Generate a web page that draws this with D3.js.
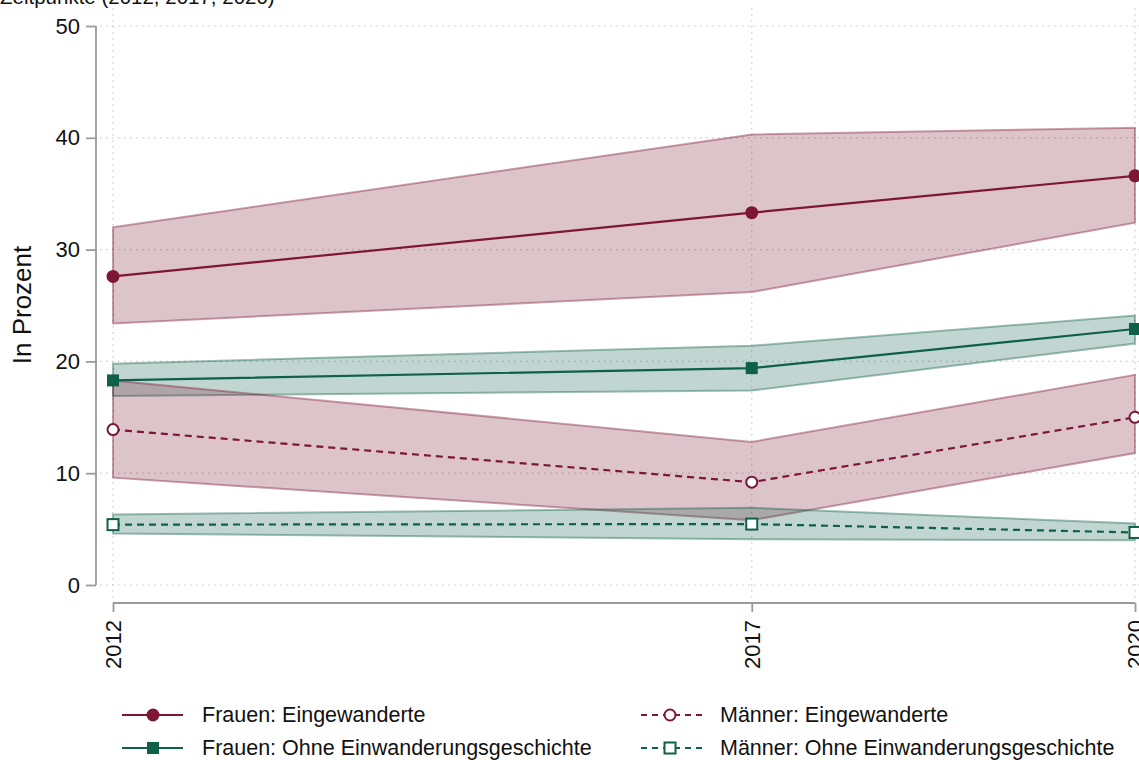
<!DOCTYPE html>
<html><head><meta charset="utf-8">
<script src="https://cdn.jsdelivr.net/npm/d3@7"></script>
<style>
html,body{margin:0;padding:0;background:#fff;}
svg{display:block;font-family:"Liberation Sans",Arial,sans-serif;}
</style></head>
<body><svg id="c" width="1139" height="760"></svg>
<script>
const years = [2012, 2017, 2020];
const yTicks = [0, 10, 20, 30, 40, 50];
const seriesNames = ["Frauen: Eingewanderte", "Frauen: Ohne Einwanderungsgeschichte", "Männer: Eingewanderte", "Männer: Ohne Einwanderungsgeschichte"];
const fEinValues = [27.6, 33.3, 36.6];
const fEinLower = [23.4, 26.2, 32.4];
const fEinUpper = [32.0, 40.3, 40.9];
const fOhneValues = [18.3, 19.4, 22.9];
const fOhneLower = [16.9, 17.4, 21.6];
const fOhneUpper = [19.8, 21.4, 24.1];
const mEinValues = [13.9, 9.2, 15.0];
const mEinLower = [9.6, 5.8, 11.8];
const mEinUpper = [18.3, 12.8, 18.8];
const mOhneValues = [5.4, 5.45, 4.7];
const mOhneLower = [4.6, 4.1, 4.0];
const mOhneUpper = [6.3, 6.9, 5.5];
const titleText = "Zeitpunkte (2012, 2017, 2020)";
const yLabel = "In Prozent";

const RED = "#7d1734", GREEN = "#0e6048";
const series = [
  {name: seriesNames[0], v: fEinValues, lo: fEinLower, hi: fEinUpper, color: RED, dashed: false, shape: "circle", filled: true},
  {name: seriesNames[1], v: fOhneValues, lo: fOhneLower, hi: fOhneUpper, color: GREEN, dashed: false, shape: "square", filled: true},
  {name: seriesNames[2], v: mEinValues, lo: mEinLower, hi: mEinUpper, color: RED, dashed: true, shape: "circle", filled: false},
  {name: seriesNames[3], v: mOhneValues, lo: mOhneLower, hi: mOhneUpper, color: GREEN, dashed: true, shape: "square", filled: false}
];

const svg = d3.select("#c");
const x = d3.scaleLinear().domain([2012, 2020]).range([113, 1135]);
const y = d3.scaleLinear().domain([0, 50]).range([585, 26]);

// clipped title (cut off at the top edge, as in the reference)
svg.append("text").attr("x", 0).attr("y", 4).attr("font-size", 20.5).attr("fill", "#111").text(titleText);

// gridlines
const grid = svg.append("g").attr("stroke", "#c8c8c8").attr("stroke-width", 1.2).attr("stroke-dasharray", "1.5,4.5");
grid.selectAll(".h").data(yTicks).join("line")
  .attr("x1", 100).attr("x2", 1139).attr("y1", d => y(d)).attr("y2", d => y(d));
grid.selectAll(".v").data(years).join("line")
  .attr("x1", d => x(d)).attr("x2", d => x(d)).attr("y1", 8).attr("y2", 600);

// y axis
const yAxis = svg.append("g").attr("transform", "translate(96,0)")
  .call(d3.axisLeft(y).tickValues(yTicks).tickSize(10).tickPadding(6));
yAxis.select(".domain").attr("stroke", "#9a9a9a").attr("stroke-width", 1.8).attr("d", `M0,${y(50)}V${y(0)}`);
yAxis.selectAll(".tick line").attr("stroke", "#9a9a9a").attr("stroke-width", 1.8);
yAxis.selectAll(".tick text").attr("font-size", 22).attr("fill", "#111").attr("font-family", "Liberation Sans, Arial, sans-serif");

// x axis
const xAxis = svg.append("g").attr("transform", "translate(0,603)")
  .call(d3.axisBottom(x).tickValues(years).tickFormat(d3.format("d")).tickSize(9));
xAxis.select(".domain").attr("stroke", "#9a9a9a").attr("stroke-width", 1.8).attr("d", `M${x(2012)},0H${x(2020)}`);
xAxis.selectAll(".tick line").attr("stroke", "#9a9a9a").attr("stroke-width", 1.8);
xAxis.selectAll(".tick text").attr("font-size", 22).attr("fill", "#111")
  .attr("font-family", "Liberation Sans, Arial, sans-serif")
  .attr("transform", "rotate(-90)").attr("text-anchor", "end").attr("dy", "0.35em").attr("x", -17).attr("y", 0);

// y label
svg.append("text").attr("transform", `translate(31,305) rotate(-90)`).attr("text-anchor", "middle")
  .attr("font-size", 26).attr("fill", "#111").text(yLabel);

// bands
const area = d3.area().x((d, i) => x(years[i])).y0(d => y(d[0])).y1(d => y(d[1]));
const bands = svg.append("g");
series.forEach(s => {
  const data = years.map((yr, i) => [s.lo[i], s.hi[i]]);
  bands.append("path").datum(data).attr("d", area)
    .attr("fill", s.color).attr("fill-opacity", 0.26)
    .attr("stroke", s.color).attr("stroke-opacity", 0.4).attr("stroke-width", 2);
});

// lines and markers
const line = d3.line().x((d, i) => x(years[i])).y(d => y(d));
function marker(g, s, cx, cy) {
  if (s.shape === "circle") {
    const r = s.filled ? 6.5 : 5.5;
    g.append("circle").attr("cx", cx).attr("cy", cy).attr("r", r)
      .attr("fill", s.filled ? s.color : "#fff").attr("stroke", s.color).attr("stroke-width", s.filled ? 0 : 2);
  } else {
    const h = s.filled ? 6 : 5.5;
    g.append("rect").attr("x", cx - h).attr("y", cy - h).attr("width", 2 * h).attr("height", 2 * h)
      .attr("fill", s.filled ? s.color : "#fff").attr("stroke", s.color).attr("stroke-width", s.filled ? 0 : 2);
  }
}
const lines = svg.append("g");
series.forEach(s => {
  lines.append("path").datum(s.v).attr("d", line).attr("fill", "none")
    .attr("stroke", s.color).attr("stroke-width", 2.2)
    .attr("stroke-dasharray", s.dashed ? "7,5" : null);
});
series.forEach(s => {
  s.v.forEach((v, i) => marker(lines, s, x(years[i]), y(v)));
});

// legend
const legPos = [[122, 715], [122, 748], [641, 715], [641, 748]];
const leg = svg.append("g");
series.forEach((s, i) => {
  const [lx, ly] = legPos[i];
  const g = leg.append("g");
  g.append("line").attr("x1", lx).attr("x2", lx + 61).attr("y1", ly).attr("y2", ly)
    .attr("stroke", s.color).attr("stroke-width", 2.2).attr("stroke-dasharray", s.dashed ? "6,5" : null);
  marker(g, s, lx + (s.dashed ? 29 : 31), ly);
  g.append("text").attr("x", s.dashed ? 720 : 202).attr("y", ly + 7)
    .attr("font-size", 21.5).attr("fill", "#111").text(s.name);
});
</script></body></html>
